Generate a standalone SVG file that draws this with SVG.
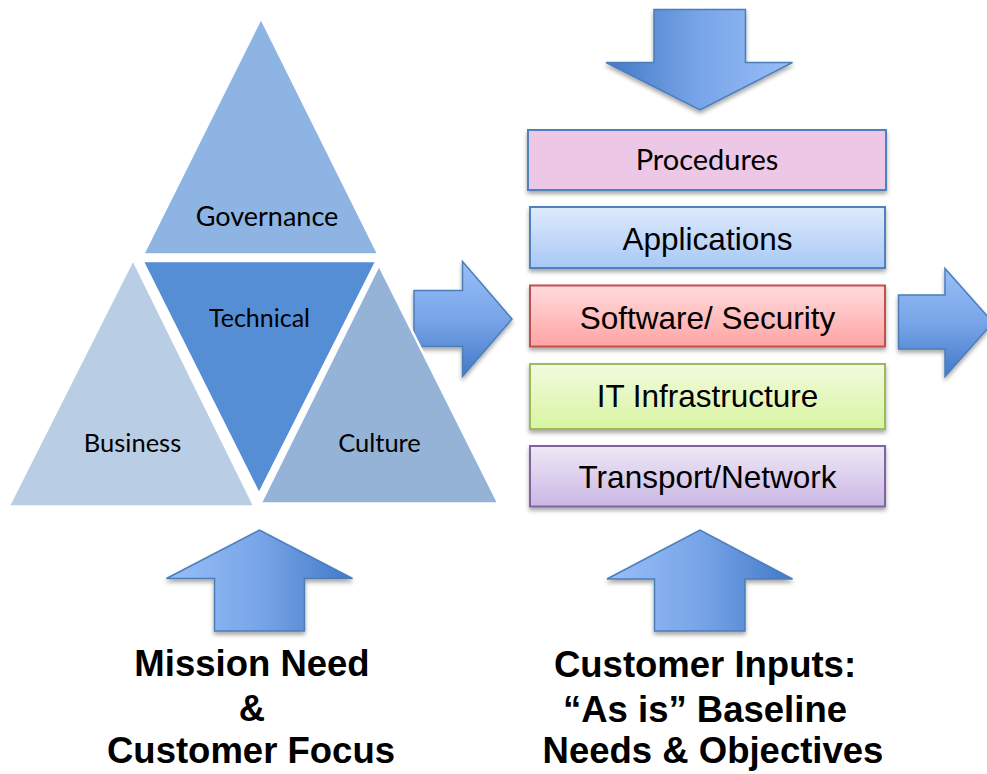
<svg xmlns="http://www.w3.org/2000/svg" width="987" height="774" viewBox="0 0 987 774">
<defs>
<filter id="sh" x="-10%" y="-10%" width="120%" height="130%">
<feDropShadow dx="0" dy="3" stdDeviation="2" flood-color="#000" flood-opacity="0.35"/>
</filter>
<linearGradient id="gV" x1="0" y1="0" x2="0" y2="1">
<stop offset="0" stop-color="#98BEF7"/><stop offset="0.5" stop-color="#78A5E8"/><stop offset="1" stop-color="#4379C7"/>
</linearGradient>
<linearGradient id="gLR" x1="0" y1="0" x2="1" y2="0">
<stop offset="0" stop-color="#4379C7"/><stop offset="0.5" stop-color="#78A5E8"/><stop offset="1" stop-color="#98BEF7"/>
</linearGradient>
<linearGradient id="gRL" x1="0" y1="0" x2="1" y2="0">
<stop offset="0" stop-color="#98BEF7"/><stop offset="0.5" stop-color="#78A5E8"/><stop offset="1" stop-color="#4379C7"/>
</linearGradient>
<linearGradient id="gApp" x1="0" y1="0" x2="0" y2="1"><stop offset="0" stop-color="#DEEAFC"/><stop offset="1" stop-color="#A8C8F6"/></linearGradient>
<linearGradient id="gSw" x1="0" y1="0" x2="0" y2="1"><stop offset="0" stop-color="#FFDCDC"/><stop offset="1" stop-color="#FFA3A3"/></linearGradient>
<linearGradient id="gIt" x1="0" y1="0" x2="0" y2="1"><stop offset="0" stop-color="#F2FADF"/><stop offset="1" stop-color="#D8F5A0"/></linearGradient>
<linearGradient id="gTr" x1="0" y1="0" x2="0" y2="1"><stop offset="0" stop-color="#EEE8F6"/><stop offset="1" stop-color="#CBB7E4"/></linearGradient>
</defs>
<style>
.arrow{stroke:#4A7EBB;stroke-width:1.5;filter:url(#sh)}
.tri{stroke:#fff;stroke-width:2.5;stroke-linejoin:miter}
.box{stroke-width:2;filter:url(#sh)}
.cal{font-family:Lato,"Open Sans",sans-serif;fill:#000;text-anchor:middle}
.ar{font-family:"Liberation Sans",Arial,sans-serif;font-size:31.5px;fill:#000;text-anchor:middle}
.big{font-family:"Liberation Sans",Arial,sans-serif;font-size:36.5px;font-weight:bold;fill:#000;text-anchor:middle}
</style>
<rect width="987" height="774" fill="#fff"/>
<g id="connectors">
<path id="arrow-down" class="arrow" fill="url(#gLR)" d="M654,9.5 H745.5 V62.5 H792.5 L700,110 L606,62.5 H654 Z"/>
<path id="arrow-right-1" class="arrow" fill="url(#gV)" d="M414,290.5 H462.5 V261.5 L512,319 L462.5,376.5 V346.5 H414 Z"/>
<path id="arrow-right-2" class="arrow" fill="url(#gV)" d="M898.5,295 H945 V268.5 L993,322.5 L945,376.5 V349 H898.5 Z"/>
<path id="arrow-up-1" class="arrow" fill="url(#gRL)" d="M214.5,631 V578.5 H166.5 L259.5,530 L352.5,578.5 H304.5 V631 Z"/>
<path id="arrow-up-2" class="arrow" fill="url(#gRL)" d="M654.5,631 V579 H607 L700,530 L792.5,579 H745 V631 Z"/>
</g>
<g id="governance">
<polygon class="tri" fill="#8EB4E3" points="261,18 143,254.5 378.5,254.5"/>
<text class="cal" x="267" y="226" font-size="27">Governance</text>
</g>
<g id="technical">
<polygon class="tri" fill="#558ED5" points="142.5,261 376.5,261 259,494"/>
<text class="cal" x="259.5" y="327" font-size="25">Technical</text>
</g>
<g id="business">
<polygon class="tri" fill="#B9CDE5" points="133,259.5 8.5,506.5 254.5,506.5"/>
<text class="cal" x="132.5" y="452" font-size="25.5">Business</text>
</g>
<g id="culture">
<polygon class="tri" fill="#95B3D7" points="379,265 260.5,503.5 498.5,503.5"/>
<text class="cal" x="379.5" y="452" font-size="25.5">Culture</text>
</g>
<g id="procedures">
<rect class="box" x="528" y="130" width="358" height="60" fill="#ECC8E6" stroke="#4F81BD"/>
<text class="cal" x="707" y="170" font-size="29">Procedures</text>
</g>
<g id="applications">
<rect class="box" x="530" y="207" width="355" height="61" fill="url(#gApp)" stroke="#4F81BD"/>
<text class="ar" x="707.5" y="250">Applications</text>
</g>
<g id="software-security">
<rect class="box" x="530" y="285.5" width="355" height="61" fill="url(#gSw)" stroke="#C0504D"/>
<text class="ar" x="707.5" y="328.5">Software/ Security</text>
</g>
<g id="it-infrastructure">
<rect class="box" x="530" y="364" width="355" height="65" fill="url(#gIt)" stroke="#9BBB59"/>
<text class="ar" x="707.5" y="407">IT Infrastructure</text>
</g>
<g id="transport-network">
<rect class="box" x="530" y="446" width="355" height="60.5" fill="url(#gTr)" stroke="#8064A2"/>
<text class="ar" x="707.5" y="487.5">Transport/Network</text>
</g>
<g id="mission-text">
<text class="big" x="252" y="676">Mission Need</text>
<text class="big" x="252" y="721">&amp;</text>
<text class="big" x="251" y="763">Customer Focus</text>
</g>
<g id="customer-inputs-text">
<text class="big" x="705" y="677">Customer Inputs:</text>
<text class="big" x="705" y="722">“As is” Baseline</text>
<text class="big" x="713" y="763">Needs &amp; Objectives</text>
</g>
</svg>
